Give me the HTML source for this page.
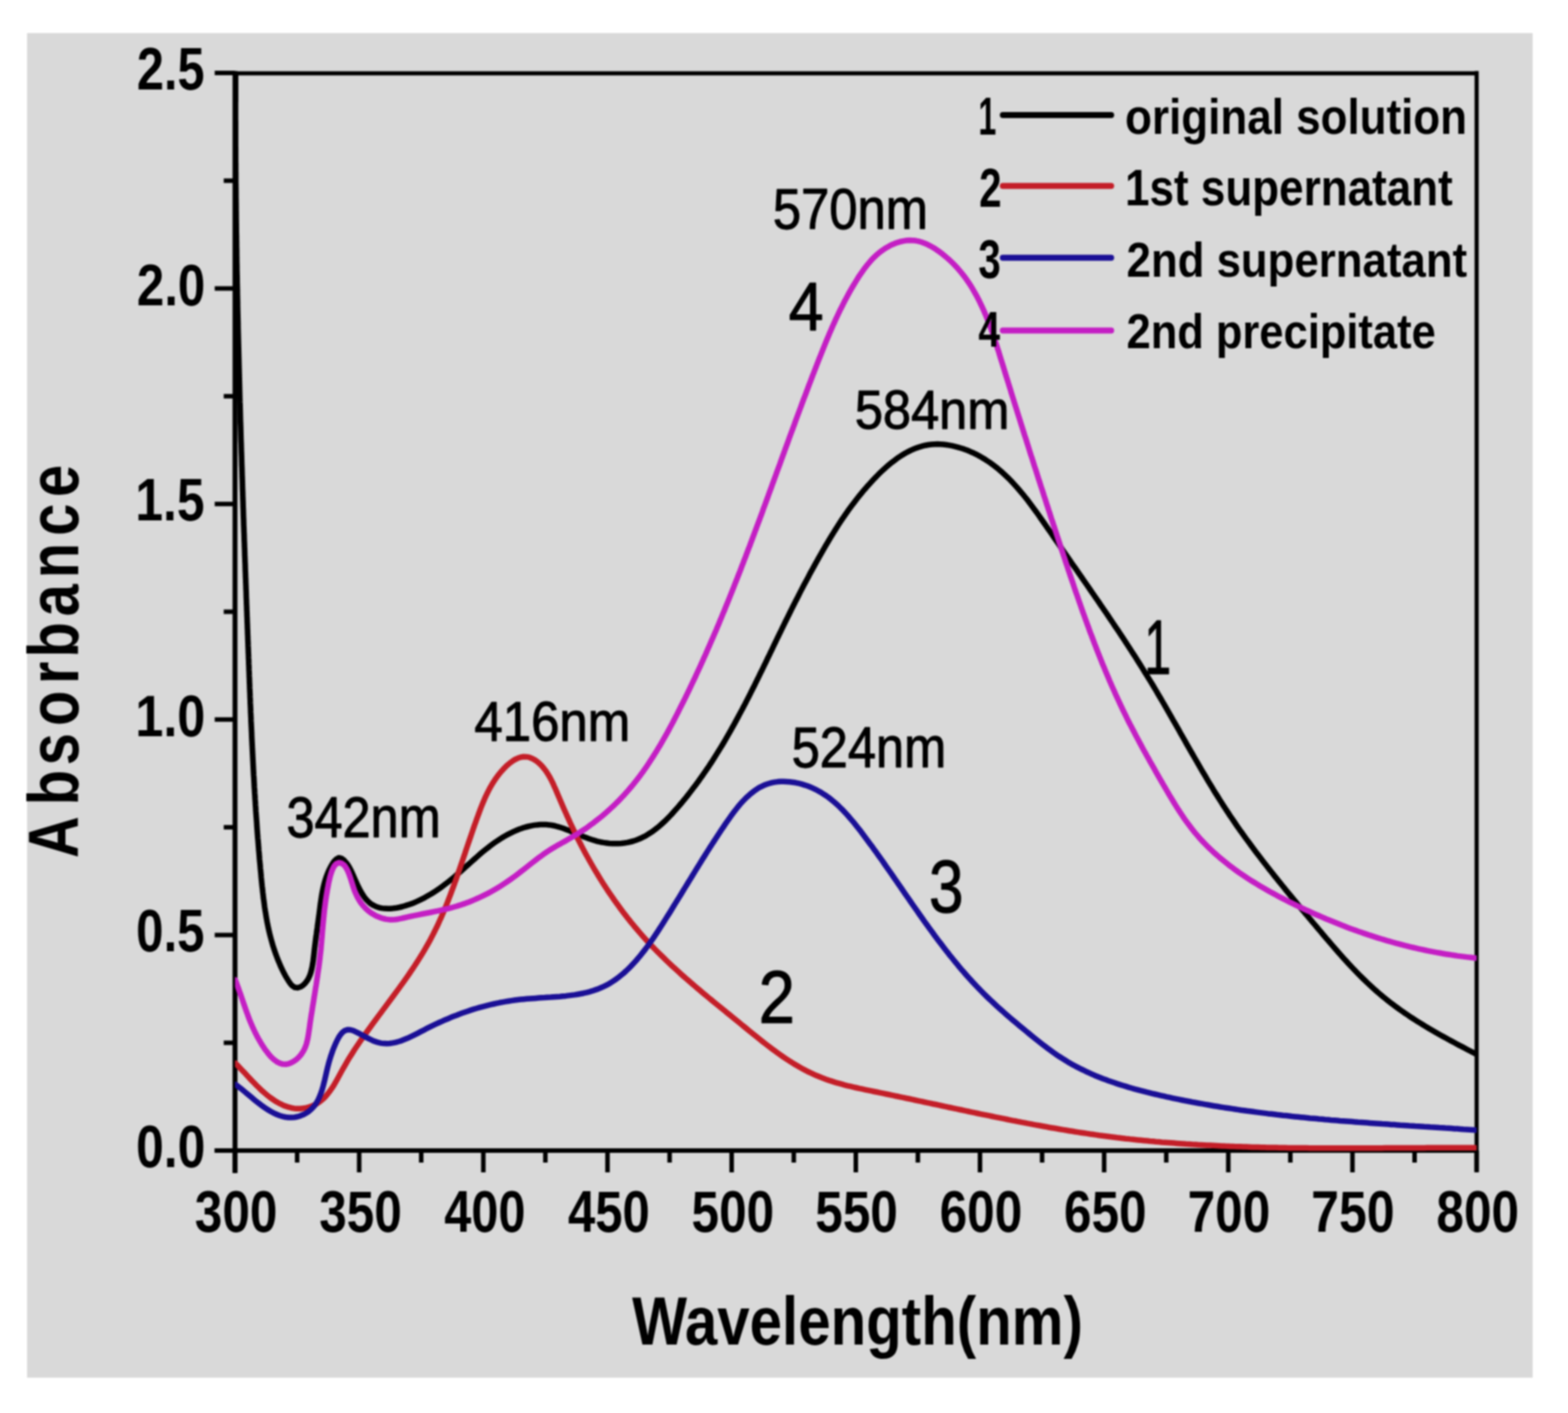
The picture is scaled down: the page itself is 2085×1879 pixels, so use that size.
<!DOCTYPE html><html><head><meta charset="utf-8"><title>Absorbance spectra</title><style>html,body{margin:0;padding:0;background:#fff;}svg{display:block;filter:blur(1px);}text{font-family:"Liberation Sans",Arial,sans-serif;fill:#000;}</style></head><body>
<svg xmlns="http://www.w3.org/2000/svg" width="2085" height="1879" viewBox="0 0 2085 1879">
<rect x="0" y="0" width="2085" height="1879" fill="#fff"/>
<rect x="36" y="44" width="2002" height="1788" fill="#d9d9d9"/>
<path d="M309.5 97.5 H1966.0" stroke="#000" stroke-width="5.5"/>
<path d="M1963.5 94.5 V1557.0" stroke="#000" stroke-width="5.5"/>
<path d="M312.5 94.5 V1560.0" stroke="#000" stroke-width="6.5"/>
<path d="M285.5 1530.0 H1965.5" stroke="#000" stroke-width="6.0"/>
<path d="M312.5 1530.0 V1559.0" stroke="#000" stroke-width="6.0"/>
<path d="M395.1 1530.0 V1546.0" stroke="#000" stroke-width="6.0"/>
<path d="M477.6 1530.0 V1559.0" stroke="#000" stroke-width="6.0"/>
<path d="M560.1 1530.0 V1546.0" stroke="#000" stroke-width="6.0"/>
<path d="M642.7 1530.0 V1559.0" stroke="#000" stroke-width="6.0"/>
<path d="M725.2 1530.0 V1546.0" stroke="#000" stroke-width="6.0"/>
<path d="M807.8 1530.0 V1559.0" stroke="#000" stroke-width="6.0"/>
<path d="M890.4 1530.0 V1546.0" stroke="#000" stroke-width="6.0"/>
<path d="M972.9 1530.0 V1559.0" stroke="#000" stroke-width="6.0"/>
<path d="M1055.5 1530.0 V1546.0" stroke="#000" stroke-width="6.0"/>
<path d="M1138.0 1530.0 V1559.0" stroke="#000" stroke-width="6.0"/>
<path d="M1220.5 1530.0 V1546.0" stroke="#000" stroke-width="6.0"/>
<path d="M1303.1 1530.0 V1559.0" stroke="#000" stroke-width="6.0"/>
<path d="M1385.7 1530.0 V1546.0" stroke="#000" stroke-width="6.0"/>
<path d="M1468.2 1530.0 V1559.0" stroke="#000" stroke-width="6.0"/>
<path d="M1550.8 1530.0 V1546.0" stroke="#000" stroke-width="6.0"/>
<path d="M1633.3 1530.0 V1559.0" stroke="#000" stroke-width="6.0"/>
<path d="M1715.8 1530.0 V1546.0" stroke="#000" stroke-width="6.0"/>
<path d="M1798.4 1530.0 V1559.0" stroke="#000" stroke-width="6.0"/>
<path d="M1881.0 1530.0 V1546.0" stroke="#000" stroke-width="6.0"/>
<path d="M1963.5 1530.0 V1559.0" stroke="#000" stroke-width="6.0"/>
<path d="M285.5 1530.0 H312.5" stroke="#000" stroke-width="6.0"/>
<path d="M297.5 1386.7 H312.5" stroke="#000" stroke-width="6.0"/>
<path d="M285.5 1243.4 H312.5" stroke="#000" stroke-width="6.0"/>
<path d="M297.5 1100.1 H312.5" stroke="#000" stroke-width="6.0"/>
<path d="M285.5 956.8 H312.5" stroke="#000" stroke-width="6.0"/>
<path d="M297.5 813.5 H312.5" stroke="#000" stroke-width="6.0"/>
<path d="M285.5 670.2 H312.5" stroke="#000" stroke-width="6.0"/>
<path d="M297.5 526.9 H312.5" stroke="#000" stroke-width="6.0"/>
<path d="M285.5 383.6 H312.5" stroke="#000" stroke-width="6.0"/>
<path d="M297.5 240.3 H312.5" stroke="#000" stroke-width="6.0"/>
<path d="M285.5 97.0 H312.5" stroke="#000" stroke-width="6.0"/>
<defs><clipPath id="pc"><rect x="312.5" y="97.0" width="1651.0" height="1437.0"/></clipPath></defs>
<g clip-path="url(#pc)" fill="none" stroke-linejoin="round" stroke-linecap="round">
<path d="M313.3 98.0 L313.2 102.0 L313.2 106.0 L313.2 110.0 L313.2 114.0 L313.2 118.0 L313.2 122.0 L313.2 126.0 L313.2 130.0 L313.2 134.0 L313.1 138.0 L313.1 142.0 L313.1 146.0 L313.1 150.0 L313.1 154.0 L313.1 158.0 L313.2 162.0 L313.2 166.1 L313.2 170.1 L313.2 174.1 L313.2 178.1 L313.2 182.1 L313.2 186.1 L313.2 190.1 L313.2 194.1 L313.3 198.1 L313.3 202.1 L313.3 206.1 L313.3 210.1 L313.3 214.1 L313.4 218.1 L313.4 222.1 L313.4 226.1 L313.5 230.1 L313.5 234.1 L313.5 238.1 L313.5 242.1 L313.6 246.1 L313.6 250.2 L313.7 254.2 L313.7 258.2 L313.7 262.2 L313.8 266.2 L313.8 270.2 L313.9 274.2 L313.9 278.2 L313.9 282.2 L314.0 286.2 L314.0 290.2 L314.1 294.2 L314.1 298.2 L314.2 302.2 L314.2 306.2 L314.3 310.2 L314.4 314.2 L314.4 318.2 L314.5 322.2 L314.5 326.2 L314.6 330.2 L314.7 334.2 L314.7 338.3 L314.8 342.3 L314.8 346.3 L314.9 350.3 L315.0 354.3 L315.0 358.3 L315.1 362.3 L315.2 366.3 L315.3 370.3 L315.3 374.3 L315.4 378.3 L315.5 382.3 L315.6 386.3 L315.6 390.3 L315.7 394.3 L315.8 398.3 L315.9 402.3 L315.9 406.3 L316.0 410.3 L316.1 414.3 L316.2 418.3 L316.3 422.3 L316.4 426.3 L316.5 430.3 L316.5 434.4 L316.6 438.4 L316.7 442.4 L316.8 446.4 L316.9 450.4 L317.0 454.4 L317.1 458.4 L317.2 462.4 L317.3 466.4 L317.4 470.4 L317.5 474.4 L317.6 478.4 L317.7 482.4 L317.8 486.4 L317.9 490.4 L318.0 494.4 L318.1 498.4 L318.2 502.4 L318.3 506.4 L318.4 510.4 L318.5 514.4 L318.6 518.4 L318.7 522.4 L318.8 526.4 L318.9 530.4 L319.0 534.4 L319.2 538.4 L319.3 542.4 L319.4 546.5 L319.5 550.5 L319.6 554.5 L319.7 558.5 L319.8 562.5 L320.0 566.5 L320.1 570.5 L320.2 574.5 L320.3 578.5 L320.4 582.5 L320.5 586.5 L320.7 590.5 L320.8 594.5 L320.9 598.5 L321.0 602.5 L321.2 606.5 L321.3 610.5 L321.4 614.5 L321.5 618.5 L321.7 622.5 L321.8 626.5 L321.9 630.5 L322.0 634.5 L322.2 638.5 L322.3 642.5 L322.4 646.5 L322.5 650.5 L322.7 654.5 L322.8 658.5 L322.9 662.5 L323.1 666.5 L323.2 670.5 L323.3 674.5 L323.5 678.5 L323.6 682.6 L323.7 686.6 L323.9 690.6 L324.0 694.6 L324.1 698.6 L324.3 702.6 L324.4 706.6 L324.6 710.6 L324.7 714.6 L324.8 718.6 L325.0 722.6 L325.1 726.6 L325.3 730.6 L325.4 734.6 L325.5 738.6 L325.7 742.6 L325.8 746.6 L326.0 750.6 L326.1 754.6 L326.2 758.6 L326.4 762.6 L326.5 766.6 L326.7 770.6 L326.8 774.6 L327.0 778.6 L327.1 782.6 L327.3 786.6 L327.4 790.6 L327.5 794.6 L327.7 798.6 L327.8 802.6 L328.0 806.6 L328.1 810.6 L328.3 814.6 L328.4 818.6 L328.6 822.6 L328.7 826.6 L328.9 830.6 L329.0 834.6 L329.2 838.6 L329.3 842.6 L329.5 846.6 L329.6 850.6 L329.8 854.7 L329.9 858.7 L330.1 862.7 L330.2 866.7 L330.4 870.7 L330.5 874.7 L330.7 878.7 L330.8 882.7 L331.0 886.7 L331.1 890.7 L331.3 894.7 L331.4 898.7 L331.6 902.7 L331.7 906.7 L331.9 910.7 L332.0 914.7 L332.2 918.7 L332.4 922.7 L332.5 926.7 L332.7 930.7 L332.8 934.7 L333.0 938.7 L333.2 942.7 L333.3 946.7 L333.5 950.7 L333.7 954.7 L333.8 958.7 L334.0 962.7 L334.2 966.7 L334.4 970.7 L334.6 974.7 L334.7 978.7 L334.9 982.7 L335.1 986.7 L335.3 990.7 L335.5 994.7 L335.7 998.7 L335.9 1002.7 L336.1 1006.7 L336.3 1010.7 L336.5 1014.7 L336.7 1018.7 L336.9 1022.7 L337.1 1026.7 L337.3 1030.7 L337.6 1034.7 L337.8 1038.7 L338.0 1042.7 L338.2 1046.7 L338.5 1050.7 L338.7 1054.7 L339.0 1058.7 L339.2 1062.7 L339.5 1066.7 L339.7 1070.7 L340.0 1074.7 L340.2 1078.7 L340.5 1082.7 L340.8 1086.7 L341.1 1090.7 L341.4 1094.7 L341.6 1098.6 L341.9 1102.6 L342.2 1106.6 L342.5 1110.6 L342.8 1114.6 L343.2 1118.6 L343.5 1122.6 L343.8 1126.6 L344.1 1130.6 L344.5 1134.6 L344.8 1138.6 L345.1 1142.6 L345.5 1146.6 L345.9 1150.5 L346.2 1154.5 L346.6 1158.5 L347.0 1162.5 L347.3 1166.5 L347.7 1170.5 L348.1 1174.5 L348.5 1178.4 L349.0 1182.4 L349.4 1186.4 L349.9 1190.4 L350.3 1194.4 L350.9 1198.3 L351.4 1202.3 L351.9 1206.3 L352.5 1210.2 L353.2 1214.2 L353.8 1218.1 L354.5 1222.1 L355.2 1226.0 L356.0 1229.9 L356.8 1233.9 L357.7 1237.8 L358.6 1241.7 L359.6 1245.6 L360.6 1249.4 L361.7 1253.3 L362.8 1257.1 L364.0 1260.9 L365.3 1264.8 L366.6 1268.5 L368.0 1272.3 L369.4 1276.0 L371.0 1279.7 L372.5 1283.4 L374.2 1287.1 L375.9 1290.7 L377.7 1294.2 L379.6 1297.8 L381.6 1301.2 L383.7 1304.6 L386.0 1307.9 L388.7 1310.9 L392.0 1313.1 L396.0 1313.5 L399.7 1312.3 L403.1 1310.1 L406.0 1307.3 L408.4 1304.1 L410.4 1300.6 L412.0 1297.0 L413.3 1293.2 L414.3 1289.3 L415.1 1285.4 L415.8 1281.4 L416.4 1277.5 L416.9 1273.5 L417.4 1269.5 L417.8 1265.5 L418.2 1261.6 L418.7 1257.6 L419.2 1253.6 L419.7 1249.6 L420.2 1245.7 L420.8 1241.7 L421.3 1237.7 L421.9 1233.8 L422.4 1229.8 L423.0 1225.8 L423.5 1221.9 L424.1 1217.9 L424.6 1213.9 L425.1 1210.0 L425.6 1206.0 L426.1 1202.0 L426.7 1198.0 L427.3 1194.1 L427.9 1190.1 L428.6 1186.2 L429.4 1182.3 L430.3 1178.4 L431.3 1174.5 L432.4 1170.6 L433.6 1166.8 L435.0 1163.1 L436.5 1159.3 L438.2 1155.7 L440.0 1152.2 L442.1 1148.7 L444.3 1145.4 L447.1 1142.5 L450.6 1140.7 L454.4 1141.7 L457.6 1144.1 L460.2 1147.1 L462.6 1150.3 L464.7 1153.7 L466.6 1157.3 L468.3 1160.9 L469.9 1164.5 L471.5 1168.2 L473.1 1171.9 L474.8 1175.5 L476.5 1179.2 L478.3 1182.7 L480.2 1186.3 L482.3 1189.7 L484.5 1193.0 L487.0 1196.1 L489.8 1199.0 L492.8 1201.6 L496.2 1203.7 L499.8 1205.5 L503.6 1206.8 L507.5 1207.6 L511.5 1208.1 L515.5 1208.3 L519.5 1208.2 L523.5 1207.8 L527.5 1207.2 L531.4 1206.5 L535.3 1205.5 L539.1 1204.4 L542.9 1203.2 L546.7 1201.9 L550.5 1200.4 L554.1 1198.9 L557.8 1197.2 L561.4 1195.4 L564.9 1193.6 L568.4 1191.6 L571.9 1189.6 L575.3 1187.5 L578.7 1185.3 L582.0 1183.1 L585.3 1180.8 L588.5 1178.5 L591.7 1176.1 L594.9 1173.6 L598.0 1171.1 L601.1 1168.6 L604.2 1166.0 L607.2 1163.4 L610.3 1160.8 L613.3 1158.1 L616.3 1155.5 L619.2 1152.8 L622.2 1150.1 L625.2 1147.5 L628.2 1144.8 L631.2 1142.1 L634.2 1139.5 L637.2 1136.8 L640.2 1134.2 L643.3 1131.7 L646.4 1129.2 L649.6 1126.7 L652.7 1124.2 L656.0 1121.8 L659.2 1119.5 L662.5 1117.3 L665.9 1115.1 L669.3 1113.0 L672.8 1111.0 L676.3 1109.1 L679.9 1107.3 L683.5 1105.6 L687.2 1104.0 L690.9 1102.5 L694.7 1101.2 L698.5 1100.0 L702.4 1099.0 L706.3 1098.1 L710.2 1097.4 L714.2 1096.9 L718.2 1096.5 L722.2 1096.4 L726.2 1096.6 L730.2 1096.9 L734.1 1097.5 L738.1 1098.3 L741.9 1099.3 L745.8 1100.5 L749.6 1101.8 L753.3 1103.2 L757.0 1104.6 L760.7 1106.2 L764.4 1107.7 L768.1 1109.3 L771.8 1110.8 L775.5 1112.4 L779.2 1113.8 L783.0 1115.2 L786.8 1116.5 L790.6 1117.7 L794.5 1118.8 L798.4 1119.7 L802.3 1120.4 L806.3 1121.0 L810.2 1121.5 L814.2 1121.7 L818.2 1121.8 L822.2 1121.7 L826.2 1121.5 L830.2 1121.0 L834.2 1120.4 L838.1 1119.5 L842.0 1118.5 L845.8 1117.2 L849.5 1115.8 L853.1 1114.2 L856.7 1112.4 L860.2 1110.4 L863.6 1108.3 L867.0 1106.1 L870.2 1103.8 L873.4 1101.3 L876.5 1098.8 L879.5 1096.1 L882.5 1093.4 L885.4 1090.7 L888.2 1087.9 L891.0 1085.0 L893.7 1082.1 L896.4 1079.1 L899.1 1076.1 L901.7 1073.1 L904.3 1070.0 L906.9 1067.0 L909.4 1063.9 L912.0 1060.8 L914.5 1057.6 L916.9 1054.5 L919.4 1051.3 L921.8 1048.1 L924.2 1044.9 L926.6 1041.7 L929.0 1038.5 L931.3 1035.2 L933.6 1032.0 L935.9 1028.7 L938.2 1025.4 L940.4 1022.1 L942.7 1018.8 L944.9 1015.4 L947.1 1012.1 L949.2 1008.7 L951.4 1005.3 L953.5 1001.9 L955.6 998.5 L957.7 995.1 L959.8 991.7 L961.9 988.2 L963.9 984.8 L965.9 981.3 L967.9 977.9 L969.9 974.4 L971.9 970.9 L973.8 967.4 L975.8 963.9 L977.7 960.4 L979.6 956.9 L981.5 953.4 L983.4 949.8 L985.3 946.3 L987.2 942.8 L989.0 939.2 L990.9 935.7 L992.7 932.1 L994.6 928.5 L996.4 925.0 L998.2 921.4 L1000.0 917.8 L1001.8 914.2 L1003.6 910.7 L1005.3 907.1 L1007.1 903.5 L1008.9 899.9 L1010.6 896.3 L1012.4 892.7 L1014.2 889.1 L1015.9 885.5 L1017.7 881.9 L1019.4 878.3 L1021.1 874.7 L1022.9 871.1 L1024.6 867.5 L1026.4 863.9 L1028.1 860.2 L1029.8 856.6 L1031.6 853.0 L1033.3 849.4 L1035.1 845.8 L1036.8 842.2 L1038.6 838.6 L1040.3 835.0 L1042.1 831.4 L1043.8 827.8 L1045.6 824.2 L1047.4 820.6 L1049.2 817.0 L1050.9 813.5 L1052.7 809.9 L1054.5 806.3 L1056.3 802.7 L1058.1 799.1 L1060.0 795.6 L1061.8 792.0 L1063.6 788.4 L1065.4 784.9 L1067.3 781.3 L1069.1 777.8 L1071.0 774.2 L1072.9 770.7 L1074.8 767.2 L1076.6 763.6 L1078.5 760.1 L1080.5 756.6 L1082.4 753.1 L1084.3 749.6 L1086.3 746.1 L1088.2 742.6 L1090.2 739.1 L1092.2 735.6 L1094.2 732.1 L1096.2 728.7 L1098.2 725.2 L1100.2 721.8 L1102.3 718.3 L1104.3 714.9 L1106.4 711.5 L1108.5 708.1 L1110.6 704.7 L1112.8 701.3 L1114.9 697.9 L1117.1 694.5 L1119.3 691.2 L1121.6 687.9 L1123.8 684.6 L1126.1 681.3 L1128.4 678.0 L1130.8 674.8 L1133.2 671.6 L1135.6 668.4 L1138.0 665.2 L1140.5 662.0 L1143.0 658.9 L1145.5 655.8 L1148.1 652.7 L1150.7 649.7 L1153.3 646.6 L1156.0 643.7 L1158.7 640.7 L1161.4 637.8 L1164.2 634.9 L1167.0 632.0 L1169.8 629.2 L1172.7 626.4 L1175.6 623.7 L1178.6 621.0 L1181.6 618.4 L1184.7 615.8 L1187.9 613.4 L1191.1 611.0 L1194.3 608.6 L1197.7 606.4 L1201.1 604.3 L1204.5 602.3 L1208.1 600.4 L1211.6 598.6 L1215.3 597.0 L1219.0 595.6 L1222.8 594.3 L1226.7 593.2 L1230.6 592.2 L1234.5 591.5 L1238.5 591.0 L1242.5 590.7 L1246.5 590.6 L1250.5 590.7 L1254.5 591.0 L1258.5 591.5 L1262.4 592.1 L1266.4 592.9 L1270.3 593.8 L1274.1 594.8 L1278.0 596.0 L1281.8 597.2 L1285.5 598.6 L1289.2 600.1 L1292.9 601.7 L1296.5 603.4 L1300.1 605.2 L1303.6 607.1 L1307.1 609.2 L1310.5 611.3 L1313.8 613.5 L1317.1 615.7 L1320.4 618.1 L1323.5 620.5 L1326.7 623.0 L1329.7 625.6 L1332.7 628.2 L1335.7 631.0 L1338.6 633.7 L1341.5 636.5 L1344.3 639.4 L1347.0 642.3 L1349.7 645.2 L1352.4 648.2 L1355.0 651.2 L1357.6 654.3 L1360.2 657.4 L1362.7 660.5 L1365.2 663.6 L1367.6 666.8 L1370.0 670.0 L1372.4 673.2 L1374.8 676.4 L1377.2 679.7 L1379.5 682.9 L1381.8 686.2 L1384.1 689.5 L1386.4 692.7 L1388.7 696.0 L1391.0 699.3 L1393.2 702.6 L1395.5 705.9 L1397.8 709.2 L1400.0 712.5 L1402.3 715.8 L1404.6 719.1 L1406.9 722.4 L1409.1 725.7 L1411.4 729.0 L1413.7 732.3 L1416.0 735.6 L1418.3 738.9 L1420.5 742.2 L1422.8 745.5 L1425.1 748.8 L1427.4 752.1 L1429.7 755.3 L1432.0 758.6 L1434.2 761.9 L1436.5 765.2 L1438.8 768.5 L1441.1 771.8 L1443.4 775.1 L1445.7 778.4 L1447.9 781.7 L1450.2 785.0 L1452.5 788.3 L1454.8 791.6 L1457.0 794.9 L1459.3 798.2 L1461.6 801.5 L1463.8 804.8 L1466.1 808.1 L1468.3 811.4 L1470.6 814.7 L1472.9 818.0 L1475.1 821.3 L1477.3 824.6 L1479.6 828.0 L1481.8 831.3 L1484.0 834.6 L1486.3 837.9 L1488.5 841.3 L1490.7 844.6 L1492.9 847.9 L1495.1 851.3 L1497.3 854.6 L1499.5 858.0 L1501.7 861.3 L1503.9 864.7 L1506.0 868.1 L1508.2 871.4 L1510.4 874.8 L1512.5 878.2 L1514.7 881.6 L1516.8 885.0 L1518.9 888.4 L1521.0 891.8 L1523.1 895.2 L1525.2 898.6 L1527.3 902.0 L1529.4 905.4 L1531.5 908.8 L1533.6 912.3 L1535.6 915.7 L1537.7 919.1 L1539.7 922.6 L1541.7 926.0 L1543.8 929.5 L1545.8 933.0 L1547.8 936.4 L1549.8 939.9 L1551.8 943.4 L1553.8 946.8 L1555.8 950.3 L1557.8 953.8 L1559.7 957.3 L1561.7 960.7 L1563.7 964.2 L1565.7 967.7 L1567.7 971.2 L1569.6 974.7 L1571.6 978.2 L1573.6 981.6 L1575.6 985.1 L1577.5 988.6 L1579.5 992.1 L1581.5 995.6 L1583.5 999.1 L1585.5 1002.5 L1587.5 1006.0 L1589.5 1009.5 L1591.5 1012.9 L1593.5 1016.4 L1595.5 1019.9 L1597.5 1023.3 L1599.5 1026.8 L1601.6 1030.2 L1603.6 1033.7 L1605.6 1037.1 L1607.7 1040.6 L1609.8 1044.0 L1611.9 1047.4 L1613.9 1050.8 L1616.0 1054.2 L1618.2 1057.6 L1620.3 1061.0 L1622.4 1064.4 L1624.6 1067.8 L1626.7 1071.2 L1628.9 1074.5 L1631.1 1077.9 L1633.3 1081.2 L1635.5 1084.6 L1637.8 1087.9 L1640.0 1091.2 L1642.3 1094.5 L1644.5 1097.8 L1646.8 1101.1 L1649.1 1104.4 L1651.5 1107.6 L1653.8 1110.9 L1656.1 1114.1 L1658.5 1117.4 L1660.9 1120.6 L1663.2 1123.8 L1665.6 1127.0 L1668.0 1130.2 L1670.4 1133.4 L1672.8 1136.6 L1675.3 1139.8 L1677.7 1143.0 L1680.2 1146.2 L1682.6 1149.3 L1685.1 1152.5 L1687.5 1155.6 L1690.0 1158.8 L1692.5 1161.9 L1695.0 1165.1 L1697.5 1168.2 L1700.0 1171.3 L1702.5 1174.4 L1705.0 1177.5 L1707.6 1180.7 L1710.1 1183.8 L1712.6 1186.9 L1715.2 1190.0 L1717.7 1193.0 L1720.3 1196.1 L1722.8 1199.2 L1725.4 1202.3 L1727.9 1205.4 L1730.5 1208.5 L1733.1 1211.5 L1735.6 1214.6 L1738.2 1217.7 L1740.8 1220.7 L1743.4 1223.8 L1745.9 1226.9 L1748.5 1229.9 L1751.1 1233.0 L1753.7 1236.1 L1756.3 1239.1 L1758.8 1242.2 L1761.4 1245.2 L1764.0 1248.3 L1766.6 1251.3 L1769.2 1254.4 L1771.8 1257.4 L1774.5 1260.5 L1777.1 1263.5 L1779.7 1266.5 L1782.4 1269.5 L1785.0 1272.5 L1787.7 1275.5 L1790.4 1278.4 L1793.1 1281.4 L1795.9 1284.3 L1798.6 1287.2 L1801.4 1290.1 L1804.1 1293.0 L1806.9 1295.9 L1809.8 1298.7 L1812.6 1301.5 L1815.5 1304.3 L1818.4 1307.1 L1821.3 1309.8 L1824.2 1312.5 L1827.2 1315.2 L1830.2 1317.9 L1833.2 1320.5 L1836.3 1323.1 L1839.3 1325.7 L1842.4 1328.2 L1845.6 1330.7 L1848.7 1333.2 L1851.9 1335.6 L1855.1 1338.0 L1858.4 1340.4 L1861.6 1342.7 L1864.9 1345.0 L1868.2 1347.3 L1871.5 1349.5 L1874.8 1351.8 L1878.2 1354.0 L1881.5 1356.1 L1884.9 1358.3 L1888.3 1360.4 L1891.7 1362.5 L1895.1 1364.6 L1898.6 1366.7 L1902.0 1368.7 L1905.5 1370.7 L1908.9 1372.7 L1912.4 1374.7 L1915.9 1376.7 L1919.4 1378.6 L1922.9 1380.6 L1926.4 1382.5 L1929.9 1384.4 L1933.5 1386.3 L1937.0 1388.2 L1940.5 1390.1 L1944.1 1391.9 L1947.6 1393.8 L1951.2 1395.7 L1954.7 1397.5 L1958.3 1399.3 L1961.8 1401.2" stroke="#000000" stroke-width="7.5"/>
<path d="M313.2 1414.0 L316.0 1416.9 L318.8 1419.8 L321.5 1422.7 L324.3 1425.6 L327.0 1428.6 L329.7 1431.5 L332.4 1434.4 L335.2 1437.4 L338.0 1440.2 L340.8 1443.1 L343.7 1445.9 L346.6 1448.7 L349.5 1451.4 L352.5 1454.0 L355.6 1456.6 L358.8 1459.1 L362.0 1461.4 L365.3 1463.7 L368.8 1465.8 L372.3 1467.7 L375.9 1469.4 L379.6 1470.9 L383.4 1472.2 L387.3 1473.2 L391.2 1473.9 L395.2 1474.2 L399.2 1474.2 L403.2 1473.8 L407.2 1473.1 L411.1 1472.1 L414.9 1470.8 L418.5 1469.2 L422.0 1467.2 L425.3 1465.0 L428.4 1462.4 L431.4 1459.7 L434.1 1456.7 L436.6 1453.6 L439.0 1450.4 L441.3 1447.1 L443.5 1443.8 L445.5 1440.3 L447.5 1436.9 L449.5 1433.3 L451.4 1429.8 L453.3 1426.3 L455.2 1422.8 L457.2 1419.3 L459.2 1415.8 L461.2 1412.3 L463.2 1408.9 L465.3 1405.5 L467.5 1402.1 L469.6 1398.7 L471.8 1395.3 L474.0 1392.0 L476.3 1388.7 L478.5 1385.3 L480.8 1382.0 L483.1 1378.8 L485.4 1375.5 L487.8 1372.2 L490.1 1369.0 L492.5 1365.7 L494.8 1362.5 L497.2 1359.3 L499.6 1356.0 L502.0 1352.8 L504.3 1349.6 L506.7 1346.4 L509.1 1343.1 L511.5 1339.9 L513.9 1336.7 L516.3 1333.5 L518.7 1330.3 L521.1 1327.1 L523.5 1323.8 L525.9 1320.6 L528.2 1317.4 L530.6 1314.1 L532.9 1310.9 L535.3 1307.6 L537.6 1304.4 L539.9 1301.1 L542.2 1297.8 L544.5 1294.5 L546.7 1291.2 L549.0 1287.8 L551.2 1284.5 L553.4 1281.2 L555.6 1277.8 L557.7 1274.4 L559.8 1271.0 L561.9 1267.6 L564.0 1264.1 L566.0 1260.7 L568.0 1257.2 L570.0 1253.7 L571.9 1250.2 L573.8 1246.6 L575.6 1243.1 L577.4 1239.5 L579.2 1235.9 L581.0 1232.3 L582.7 1228.7 L584.3 1225.0 L586.0 1221.4 L587.6 1217.7 L589.2 1214.0 L590.7 1210.3 L592.3 1206.6 L593.8 1202.9 L595.3 1199.2 L596.7 1195.4 L598.2 1191.7 L599.6 1187.9 L601.0 1184.2 L602.4 1180.4 L603.8 1176.7 L605.1 1172.9 L606.5 1169.1 L607.8 1165.3 L609.1 1161.5 L610.4 1157.7 L611.7 1154.0 L613.0 1150.2 L614.3 1146.4 L615.6 1142.6 L616.9 1138.8 L618.2 1135.0 L619.4 1131.2 L620.7 1127.4 L622.0 1123.6 L623.3 1119.8 L624.6 1116.0 L625.9 1112.2 L627.2 1108.4 L628.5 1104.6 L629.8 1100.8 L631.1 1097.0 L632.5 1093.2 L633.8 1089.5 L635.2 1085.7 L636.6 1081.9 L638.0 1078.2 L639.4 1074.4 L640.9 1070.7 L642.4 1067.0 L644.0 1063.3 L645.6 1059.6 L647.3 1056.0 L649.1 1052.4 L650.9 1048.9 L652.9 1045.3 L654.9 1041.9 L657.1 1038.5 L659.3 1035.2 L661.7 1031.9 L664.1 1028.8 L666.7 1025.7 L669.4 1022.7 L672.2 1019.8 L675.1 1017.1 L678.2 1014.5 L681.4 1012.2 L684.8 1010.0 L688.4 1008.3 L692.2 1007.0 L696.2 1006.3 L700.2 1006.4 L704.1 1007.2 L707.8 1008.7 L711.3 1010.6 L714.6 1013.0 L717.6 1015.6 L720.4 1018.4 L723.0 1021.5 L725.5 1024.7 L727.7 1028.0 L729.8 1031.4 L731.8 1034.9 L733.6 1038.4 L735.4 1042.0 L737.0 1045.7 L738.7 1049.4 L740.2 1053.0 L741.8 1056.7 L743.4 1060.4 L744.9 1064.1 L746.5 1067.8 L748.1 1071.5 L749.7 1075.2 L751.3 1078.8 L753.0 1082.5 L754.6 1086.2 L756.3 1089.8 L757.9 1093.5 L759.6 1097.1 L761.3 1100.7 L763.0 1104.3 L764.8 1108.0 L766.5 1111.6 L768.3 1115.2 L770.1 1118.7 L771.9 1122.3 L773.8 1125.9 L775.6 1129.4 L777.5 1133.0 L779.4 1136.5 L781.4 1140.0 L783.3 1143.5 L785.3 1147.0 L787.3 1150.5 L789.3 1154.0 L791.3 1157.4 L793.4 1160.8 L795.5 1164.3 L797.6 1167.7 L799.7 1171.1 L801.8 1174.5 L804.0 1177.8 L806.2 1181.2 L808.4 1184.6 L810.6 1187.9 L812.9 1191.2 L815.2 1194.5 L817.5 1197.8 L819.8 1201.0 L822.2 1204.3 L824.5 1207.5 L826.9 1210.7 L829.3 1213.9 L831.8 1217.1 L834.2 1220.3 L836.7 1223.4 L839.2 1226.6 L841.8 1229.7 L844.3 1232.8 L846.9 1235.8 L849.5 1238.9 L852.1 1241.9 L854.8 1244.9 L857.5 1247.9 L860.2 1250.9 L862.9 1253.8 L865.6 1256.7 L868.4 1259.6 L871.2 1262.5 L874.0 1265.4 L876.8 1268.2 L879.7 1271.0 L882.6 1273.8 L885.4 1276.6 L888.3 1279.4 L891.3 1282.2 L894.2 1284.9 L897.1 1287.6 L900.1 1290.3 L903.1 1293.0 L906.0 1295.7 L909.0 1298.4 L912.0 1301.0 L915.1 1303.6 L918.1 1306.3 L921.1 1308.9 L924.2 1311.5 L927.2 1314.1 L930.3 1316.7 L933.4 1319.3 L936.4 1321.8 L939.5 1324.4 L942.6 1327.0 L945.7 1329.5 L948.8 1332.1 L951.9 1334.6 L955.0 1337.1 L958.1 1339.7 L961.2 1342.2 L964.3 1344.7 L967.4 1347.3 L970.6 1349.8 L973.7 1352.3 L976.8 1354.9 L979.9 1357.4 L983.0 1359.9 L986.1 1362.5 L989.2 1365.0 L992.3 1367.5 L995.4 1370.1 L998.5 1372.6 L1001.6 1375.1 L1004.8 1377.7 L1007.9 1380.2 L1011.0 1382.7 L1014.2 1385.2 L1017.3 1387.6 L1020.5 1390.1 L1023.7 1392.5 L1026.9 1394.9 L1030.1 1397.3 L1033.4 1399.7 L1036.6 1402.0 L1039.9 1404.3 L1043.2 1406.6 L1046.6 1408.8 L1049.9 1411.0 L1053.3 1413.1 L1056.7 1415.2 L1060.2 1417.3 L1063.6 1419.3 L1067.1 1421.2 L1070.7 1423.1 L1074.2 1425.0 L1077.8 1426.7 L1081.5 1428.4 L1085.1 1430.1 L1088.8 1431.6 L1092.5 1433.1 L1096.3 1434.5 L1100.1 1435.9 L1103.9 1437.2 L1107.7 1438.4 L1111.5 1439.6 L1115.4 1440.7 L1119.2 1441.7 L1123.1 1442.8 L1127.0 1443.8 L1130.9 1444.7 L1134.8 1445.6 L1138.7 1446.5 L1142.6 1447.4 L1146.5 1448.2 L1150.5 1449.1 L1154.4 1449.9 L1158.3 1450.7 L1162.2 1451.5 L1166.2 1452.3 L1170.1 1453.1 L1174.0 1453.9 L1178.0 1454.7 L1181.9 1455.5 L1185.8 1456.3 L1189.7 1457.2 L1193.7 1458.0 L1197.6 1458.8 L1201.5 1459.6 L1205.4 1460.5 L1209.4 1461.3 L1213.3 1462.1 L1217.2 1463.0 L1221.1 1463.8 L1225.1 1464.6 L1229.0 1465.5 L1232.9 1466.3 L1236.8 1467.1 L1240.7 1468.0 L1244.7 1468.8 L1248.6 1469.6 L1252.5 1470.5 L1256.4 1471.3 L1260.3 1472.2 L1264.3 1473.0 L1268.2 1473.8 L1272.1 1474.7 L1276.0 1475.5 L1280.0 1476.3 L1283.9 1477.2 L1287.8 1478.0 L1291.7 1478.8 L1295.6 1479.6 L1299.6 1480.5 L1303.5 1481.3 L1307.4 1482.1 L1311.4 1482.9 L1315.3 1483.7 L1319.2 1484.5 L1323.1 1485.3 L1327.1 1486.1 L1331.0 1486.9 L1334.9 1487.7 L1338.9 1488.5 L1342.8 1489.3 L1346.7 1490.1 L1350.7 1490.8 L1354.6 1491.6 L1358.5 1492.4 L1362.5 1493.1 L1366.4 1493.9 L1370.4 1494.6 L1374.3 1495.4 L1378.2 1496.1 L1382.2 1496.8 L1386.1 1497.5 L1390.1 1498.2 L1394.0 1499.0 L1398.0 1499.7 L1401.9 1500.3 L1405.9 1501.0 L1409.8 1501.7 L1413.8 1502.4 L1417.7 1503.0 L1421.7 1503.7 L1425.6 1504.3 L1429.6 1505.0 L1433.6 1505.6 L1437.5 1506.2 L1441.5 1506.8 L1445.5 1507.4 L1449.4 1508.0 L1453.4 1508.5 L1457.4 1509.1 L1461.3 1509.7 L1465.3 1510.2 L1469.3 1510.7 L1473.3 1511.3 L1477.2 1511.8 L1481.2 1512.3 L1485.2 1512.8 L1489.2 1513.2 L1493.2 1513.7 L1497.1 1514.2 L1501.1 1514.6 L1505.1 1515.1 L1509.1 1515.5 L1513.1 1515.9 L1517.1 1516.3 L1521.1 1516.7 L1525.1 1517.1 L1529.1 1517.5 L1533.0 1517.8 L1537.0 1518.2 L1541.0 1518.5 L1545.0 1518.9 L1549.0 1519.2 L1553.0 1519.5 L1557.0 1519.8 L1561.0 1520.1 L1565.0 1520.4 L1569.0 1520.7 L1573.0 1521.0 L1577.0 1521.3 L1581.0 1521.5 L1585.0 1521.8 L1589.0 1522.0 L1593.0 1522.3 L1597.0 1522.5 L1601.0 1522.7 L1605.0 1522.9 L1609.0 1523.1 L1613.1 1523.3 L1617.1 1523.5 L1621.1 1523.7 L1625.1 1523.9 L1629.1 1524.1 L1633.1 1524.2 L1637.1 1524.4 L1641.1 1524.6 L1645.1 1524.7 L1649.1 1524.8 L1653.1 1525.0 L1657.1 1525.1 L1661.1 1525.2 L1665.1 1525.4 L1669.1 1525.5 L1673.2 1525.6 L1677.2 1525.7 L1681.2 1525.8 L1685.2 1525.9 L1689.2 1525.9 L1693.2 1526.0 L1697.2 1526.1 L1701.2 1526.2 L1705.2 1526.2 L1709.2 1526.3 L1713.2 1526.4 L1717.3 1526.4 L1721.3 1526.5 L1725.3 1526.5 L1729.3 1526.6 L1733.3 1526.6 L1737.3 1526.6 L1741.3 1526.7 L1745.3 1526.7 L1749.3 1526.7 L1753.3 1526.7 L1757.4 1526.8 L1761.4 1526.8 L1765.4 1526.8 L1769.4 1526.8 L1773.4 1526.8 L1777.4 1526.8 L1781.4 1526.8 L1785.4 1526.8 L1789.4 1526.8 L1793.4 1526.8 L1797.5 1526.8 L1801.5 1526.8 L1805.5 1526.8 L1809.5 1526.8 L1813.5 1526.8 L1817.5 1526.7 L1821.5 1526.7 L1825.5 1526.7 L1829.5 1526.7 L1833.5 1526.7 L1837.6 1526.7 L1841.6 1526.6 L1845.6 1526.6 L1849.6 1526.6 L1853.6 1526.6 L1857.6 1526.5 L1861.6 1526.5 L1865.6 1526.5 L1869.6 1526.5 L1873.6 1526.5 L1877.7 1526.4 L1881.7 1526.4 L1885.7 1526.4 L1889.7 1526.4 L1893.7 1526.4 L1897.7 1526.3 L1901.7 1526.3 L1905.7 1526.3 L1909.7 1526.3 L1913.7 1526.3 L1917.8 1526.3 L1921.8 1526.3 L1925.8 1526.2 L1929.8 1526.2 L1933.8 1526.2 L1937.8 1526.2 L1941.8 1526.2 L1945.8 1526.2 L1949.8 1526.2 L1953.8 1526.2 L1957.9 1526.3 L1961.9 1526.3" stroke="#c41e28" stroke-width="7.5"/>
<path d="M313.1 1442.1 L316.3 1444.5 L319.5 1446.9 L322.6 1449.4 L325.7 1452.0 L328.8 1454.6 L331.9 1457.2 L334.9 1459.7 L338.0 1462.3 L341.1 1464.8 L344.3 1467.3 L347.5 1469.7 L350.8 1472.1 L354.1 1474.3 L357.5 1476.5 L360.9 1478.5 L364.5 1480.3 L368.1 1482.0 L371.9 1483.5 L375.7 1484.6 L379.6 1485.5 L383.6 1486.0 L387.6 1486.1 L391.6 1485.7 L395.6 1485.0 L399.4 1483.8 L403.1 1482.3 L406.7 1480.5 L410.0 1478.3 L413.2 1475.7 L416.0 1472.9 L418.6 1469.8 L420.8 1466.5 L422.8 1463.0 L424.5 1459.4 L426.0 1455.7 L427.4 1451.9 L428.6 1448.1 L429.7 1444.2 L430.7 1440.3 L431.7 1436.4 L432.6 1432.5 L433.5 1428.6 L434.4 1424.7 L435.3 1420.8 L436.3 1416.9 L437.3 1413.0 L438.4 1409.2 L439.6 1405.3 L440.9 1401.5 L442.2 1397.7 L443.6 1394.0 L445.2 1390.3 L446.8 1386.6 L448.5 1383.0 L450.4 1379.4 L452.6 1376.1 L455.2 1373.0 L458.4 1370.6 L462.1 1369.3 L466.1 1369.5 L470.0 1370.6 L473.6 1372.3 L477.2 1374.1 L480.7 1376.0 L484.2 1377.9 L487.8 1379.9 L491.3 1381.7 L495.0 1383.4 L498.7 1384.9 L502.5 1386.2 L506.4 1387.1 L510.4 1387.6 L514.4 1387.7 L518.4 1387.5 L522.4 1386.9 L526.3 1386.1 L530.2 1385.0 L534.0 1383.8 L537.7 1382.3 L541.4 1380.8 L545.1 1379.1 L548.7 1377.4 L552.3 1375.6 L555.8 1373.8 L559.4 1371.9 L563.0 1370.1 L566.5 1368.2 L570.1 1366.4 L573.7 1364.6 L577.3 1362.9 L581.0 1361.2 L584.6 1359.5 L588.3 1357.9 L591.9 1356.2 L595.6 1354.7 L599.3 1353.1 L603.1 1351.6 L606.8 1350.2 L610.5 1348.7 L614.3 1347.3 L618.1 1346.0 L621.9 1344.7 L625.7 1343.4 L629.5 1342.2 L633.4 1341.0 L637.2 1339.9 L641.1 1338.8 L645.0 1337.8 L648.8 1336.8 L652.7 1335.9 L656.7 1335.0 L660.6 1334.1 L664.5 1333.3 L668.5 1332.6 L672.4 1331.9 L676.4 1331.2 L680.3 1330.6 L684.3 1330.0 L688.3 1329.5 L692.3 1329.1 L696.3 1328.7 L700.3 1328.3 L704.3 1328.0 L708.3 1327.7 L712.3 1327.4 L716.3 1327.1 L720.3 1326.8 L724.3 1326.6 L728.3 1326.3 L732.3 1326.1 L736.3 1325.8 L740.3 1325.5 L744.3 1325.2 L748.3 1324.8 L752.3 1324.4 L756.3 1323.9 L760.3 1323.4 L764.2 1322.9 L768.2 1322.2 L772.1 1321.5 L776.1 1320.7 L780.0 1319.8 L783.9 1318.8 L787.7 1317.7 L791.5 1316.4 L795.3 1315.1 L799.0 1313.5 L802.7 1311.9 L806.3 1310.1 L809.8 1308.2 L813.2 1306.1 L816.6 1303.9 L819.9 1301.6 L823.1 1299.2 L826.2 1296.7 L829.3 1294.1 L832.3 1291.4 L835.2 1288.6 L838.0 1285.8 L840.8 1282.9 L843.5 1280.0 L846.2 1277.0 L848.8 1273.9 L851.4 1270.8 L853.9 1267.7 L856.3 1264.6 L858.8 1261.4 L861.2 1258.1 L863.5 1254.9 L865.8 1251.6 L868.1 1248.3 L870.4 1245.0 L872.6 1241.6 L874.8 1238.3 L877.0 1234.9 L879.2 1231.5 L881.3 1228.2 L883.5 1224.8 L885.6 1221.4 L887.7 1218.0 L889.9 1214.6 L892.0 1211.2 L894.1 1207.8 L896.2 1204.3 L898.3 1200.9 L900.4 1197.5 L902.5 1194.1 L904.6 1190.7 L906.7 1187.2 L908.8 1183.8 L910.9 1180.4 L913.0 1177.0 L915.1 1173.5 L917.2 1170.1 L919.3 1166.7 L921.4 1163.3 L923.5 1159.9 L925.6 1156.4 L927.7 1153.0 L929.8 1149.6 L931.9 1146.2 L934.0 1142.8 L936.2 1139.4 L938.3 1136.0 L940.4 1132.6 L942.6 1129.2 L944.7 1125.8 L946.9 1122.5 L949.1 1119.1 L951.3 1115.7 L953.5 1112.4 L955.7 1109.0 L957.9 1105.7 L960.1 1102.3 L962.4 1099.0 L964.6 1095.7 L966.9 1092.4 L969.2 1089.1 L971.5 1085.8 L973.9 1082.6 L976.3 1079.3 L978.7 1076.2 L981.2 1073.0 L983.8 1069.9 L986.4 1066.9 L989.2 1064.0 L992.0 1061.1 L994.9 1058.4 L997.9 1055.7 L1001.1 1053.2 L1004.3 1050.8 L1007.6 1048.6 L1011.1 1046.6 L1014.7 1044.8 L1018.4 1043.3 L1022.2 1042.0 L1026.1 1040.9 L1030.0 1040.1 L1034.0 1039.6 L1038.0 1039.3 L1042.0 1039.2 L1046.0 1039.4 L1050.0 1039.7 L1054.0 1040.2 L1057.9 1040.8 L1061.9 1041.7 L1065.8 1042.6 L1069.6 1043.8 L1073.4 1045.0 L1077.2 1046.5 L1080.9 1048.1 L1084.5 1049.8 L1088.0 1051.7 L1091.5 1053.6 L1094.9 1055.8 L1098.3 1058.0 L1101.5 1060.3 L1104.7 1062.8 L1107.8 1065.3 L1110.9 1067.9 L1113.8 1070.6 L1116.7 1073.4 L1119.6 1076.2 L1122.4 1079.1 L1125.1 1082.0 L1127.8 1085.0 L1130.4 1088.1 L1133.0 1091.1 L1135.6 1094.2 L1138.1 1097.3 L1140.6 1100.5 L1143.1 1103.6 L1145.5 1106.8 L1147.9 1110.0 L1150.3 1113.2 L1152.7 1116.4 L1155.1 1119.7 L1157.5 1122.9 L1159.9 1126.1 L1162.2 1129.4 L1164.6 1132.6 L1166.9 1135.9 L1169.3 1139.2 L1171.6 1142.4 L1173.9 1145.7 L1176.2 1149.0 L1178.5 1152.3 L1180.8 1155.6 L1183.1 1158.9 L1185.4 1162.2 L1187.7 1165.5 L1190.0 1168.8 L1192.3 1172.1 L1194.5 1175.4 L1196.8 1178.7 L1199.1 1182.0 L1201.4 1185.3 L1203.6 1188.6 L1205.9 1191.9 L1208.2 1195.2 L1210.5 1198.5 L1212.8 1201.8 L1215.1 1205.1 L1217.4 1208.4 L1219.7 1211.7 L1222.0 1215.0 L1224.3 1218.2 L1226.6 1221.5 L1228.9 1224.8 L1231.2 1228.0 L1233.6 1231.3 L1235.9 1234.6 L1238.3 1237.8 L1240.7 1241.0 L1243.0 1244.3 L1245.4 1247.5 L1247.8 1250.7 L1250.3 1253.9 L1252.7 1257.1 L1255.1 1260.3 L1257.6 1263.5 L1260.1 1266.6 L1262.5 1269.8 L1265.1 1272.9 L1267.6 1276.0 L1270.1 1279.1 L1272.7 1282.2 L1275.2 1285.3 L1277.8 1288.4 L1280.5 1291.4 L1283.1 1294.5 L1285.7 1297.5 L1288.4 1300.5 L1291.1 1303.4 L1293.8 1306.4 L1296.6 1309.3 L1299.3 1312.2 L1302.1 1315.1 L1304.9 1318.0 L1307.7 1320.9 L1310.6 1323.7 L1313.4 1326.5 L1316.3 1329.3 L1319.3 1332.0 L1322.2 1334.8 L1325.1 1337.5 L1328.1 1340.2 L1331.1 1342.9 L1334.1 1345.5 L1337.1 1348.2 L1340.1 1350.8 L1343.2 1353.5 L1346.2 1356.1 L1349.3 1358.7 L1352.3 1361.2 L1355.4 1363.8 L1358.5 1366.4 L1361.6 1368.9 L1364.7 1371.5 L1367.8 1374.0 L1370.9 1376.6 L1374.0 1379.1 L1377.1 1381.6 L1380.3 1384.1 L1383.4 1386.6 L1386.6 1389.1 L1389.8 1391.5 L1393.0 1393.9 L1396.2 1396.3 L1399.5 1398.7 L1402.7 1401.0 L1406.0 1403.3 L1409.4 1405.5 L1412.8 1407.7 L1416.2 1409.8 L1419.6 1411.9 L1423.1 1413.9 L1426.6 1415.9 L1430.1 1417.8 L1433.6 1419.6 L1437.2 1421.5 L1440.8 1423.2 L1444.4 1425.0 L1448.1 1426.6 L1451.8 1428.3 L1455.4 1429.9 L1459.1 1431.4 L1462.9 1432.9 L1466.6 1434.4 L1470.4 1435.8 L1474.1 1437.2 L1477.9 1438.5 L1481.7 1439.8 L1485.5 1441.1 L1489.3 1442.3 L1493.1 1443.5 L1497.0 1444.7 L1500.8 1445.9 L1504.7 1447.0 L1508.5 1448.1 L1512.4 1449.1 L1516.3 1450.2 L1520.2 1451.2 L1524.1 1452.2 L1528.0 1453.1 L1531.9 1454.1 L1535.8 1455.0 L1539.7 1455.9 L1543.6 1456.8 L1547.5 1457.7 L1551.4 1458.6 L1555.3 1459.4 L1559.3 1460.3 L1563.2 1461.1 L1567.1 1461.9 L1571.1 1462.7 L1575.0 1463.5 L1578.9 1464.2 L1582.9 1465.0 L1586.8 1465.8 L1590.8 1466.5 L1594.7 1467.2 L1598.7 1467.9 L1602.6 1468.6 L1606.6 1469.3 L1610.5 1470.0 L1614.5 1470.7 L1618.4 1471.3 L1622.4 1472.0 L1626.4 1472.6 L1630.3 1473.2 L1634.3 1473.8 L1638.3 1474.4 L1642.2 1475.0 L1646.2 1475.6 L1650.2 1476.2 L1654.2 1476.7 L1658.1 1477.3 L1662.1 1477.8 L1666.1 1478.3 L1670.1 1478.9 L1674.0 1479.4 L1678.0 1479.9 L1682.0 1480.4 L1686.0 1480.9 L1690.0 1481.3 L1694.0 1481.8 L1697.9 1482.3 L1701.9 1482.7 L1705.9 1483.2 L1709.9 1483.6 L1713.9 1484.0 L1717.9 1484.5 L1721.9 1484.9 L1725.9 1485.3 L1729.9 1485.7 L1733.9 1486.1 L1737.9 1486.5 L1741.9 1486.9 L1745.8 1487.2 L1749.8 1487.6 L1753.8 1488.0 L1757.8 1488.3 L1761.8 1488.7 L1765.8 1489.0 L1769.8 1489.4 L1773.8 1489.7 L1777.8 1490.0 L1781.8 1490.4 L1785.8 1490.7 L1789.8 1491.0 L1793.8 1491.3 L1797.8 1491.6 L1801.8 1491.9 L1805.8 1492.3 L1809.8 1492.5 L1813.8 1492.8 L1817.8 1493.1 L1821.8 1493.4 L1825.8 1493.7 L1829.9 1494.0 L1833.9 1494.3 L1837.9 1494.6 L1841.9 1494.8 L1845.9 1495.1 L1849.9 1495.4 L1853.9 1495.6 L1857.9 1495.9 L1861.9 1496.2 L1865.9 1496.4 L1869.9 1496.7 L1873.9 1497.0 L1877.9 1497.2 L1881.9 1497.5 L1885.9 1497.7 L1889.9 1498.0 L1893.9 1498.3 L1897.9 1498.5 L1901.9 1498.8 L1905.9 1499.0 L1909.9 1499.3 L1913.9 1499.6 L1918.0 1499.8 L1922.0 1500.1 L1926.0 1500.3 L1930.0 1500.6 L1934.0 1500.9 L1938.0 1501.1 L1942.0 1501.4 L1946.0 1501.7 L1950.0 1501.9 L1954.0 1502.2 L1958.0 1502.5 L1962.0 1502.8" stroke="#1a0f96" stroke-width="7.5"/>
<path d="M312.8 1303.0 L314.2 1306.7 L315.6 1310.5 L317.0 1314.2 L318.3 1318.0 L319.7 1321.8 L321.0 1325.6 L322.3 1329.4 L323.6 1333.2 L324.9 1337.0 L326.2 1340.8 L327.5 1344.5 L328.9 1348.3 L330.3 1352.1 L331.7 1355.8 L333.2 1359.5 L334.8 1363.2 L336.4 1366.9 L338.1 1370.5 L339.8 1374.1 L341.7 1377.7 L343.6 1381.2 L345.6 1384.7 L347.6 1388.1 L349.8 1391.5 L352.0 1394.9 L354.4 1398.1 L356.8 1401.3 L359.4 1404.3 L362.2 1407.2 L365.3 1409.8 L368.5 1412.1 L372.1 1413.9 L376.0 1415.1 L379.9 1415.3 L383.9 1414.6 L387.6 1413.1 L391.1 1411.1 L394.3 1408.7 L397.2 1406.0 L399.9 1403.0 L402.2 1399.7 L404.2 1396.3 L405.9 1392.6 L407.3 1388.8 L408.3 1385.0 L409.2 1381.1 L409.9 1377.1 L410.5 1373.2 L411.1 1369.2 L411.7 1365.2 L412.2 1361.3 L412.8 1357.3 L413.4 1353.3 L414.0 1349.4 L414.7 1345.4 L415.3 1341.4 L415.9 1337.5 L416.6 1333.5 L417.2 1329.6 L417.8 1325.6 L418.5 1321.6 L419.1 1317.7 L419.7 1313.7 L420.4 1309.8 L421.0 1305.8 L421.6 1301.8 L422.2 1297.9 L422.7 1293.9 L423.3 1289.9 L423.9 1286.0 L424.4 1282.0 L424.9 1278.0 L425.4 1274.0 L425.8 1270.0 L426.3 1266.0 L426.7 1262.1 L427.0 1258.1 L427.4 1254.1 L427.7 1250.1 L428.1 1246.1 L428.4 1242.1 L428.7 1238.1 L429.1 1234.1 L429.4 1230.1 L429.8 1226.1 L430.2 1222.1 L430.6 1218.1 L431.0 1214.1 L431.4 1210.1 L431.9 1206.2 L432.4 1202.2 L432.9 1198.2 L433.5 1194.2 L434.1 1190.3 L434.8 1186.3 L435.4 1182.4 L436.2 1178.4 L436.9 1174.5 L437.8 1170.6 L438.7 1166.7 L439.8 1162.8 L441.0 1159.0 L442.5 1155.3 L444.4 1151.7 L447.0 1148.7 L450.6 1147.2 L454.5 1148.2 L457.7 1150.6 L460.1 1153.8 L462.1 1157.3 L463.6 1161.0 L465.0 1164.7 L466.3 1168.5 L467.5 1172.4 L468.7 1176.2 L469.9 1180.0 L471.2 1183.8 L472.7 1187.5 L474.4 1191.2 L476.2 1194.7 L478.2 1198.2 L480.5 1201.5 L483.0 1204.6 L485.7 1207.6 L488.6 1210.3 L491.8 1212.8 L495.1 1215.1 L498.5 1217.1 L502.1 1218.8 L505.9 1220.3 L509.7 1221.5 L513.6 1222.4 L517.6 1222.9 L521.6 1223.0 L525.6 1222.8 L529.6 1222.2 L533.5 1221.4 L537.4 1220.5 L541.3 1219.6 L545.2 1218.7 L549.2 1217.9 L553.1 1217.1 L557.0 1216.3 L560.9 1215.5 L564.9 1214.7 L568.8 1214.0 L572.8 1213.2 L576.7 1212.4 L580.6 1211.6 L584.5 1210.8 L588.5 1209.9 L592.4 1209.0 L596.3 1208.1 L600.1 1207.1 L604.0 1206.0 L607.9 1204.9 L611.7 1203.7 L615.5 1202.4 L619.3 1201.1 L623.0 1199.7 L626.7 1198.2 L630.5 1196.6 L634.1 1195.0 L637.8 1193.4 L641.4 1191.7 L645.0 1189.9 L648.6 1188.1 L652.1 1186.2 L655.6 1184.2 L659.1 1182.2 L662.5 1180.2 L665.9 1178.1 L669.3 1175.9 L672.7 1173.7 L676.0 1171.4 L679.3 1169.1 L682.5 1166.8 L685.7 1164.4 L688.9 1162.0 L692.1 1159.5 L695.3 1157.1 L698.4 1154.6 L701.6 1152.1 L704.7 1149.6 L707.9 1147.1 L711.0 1144.7 L714.2 1142.2 L717.4 1139.8 L720.7 1137.5 L723.9 1135.1 L727.2 1132.9 L730.6 1130.7 L734.0 1128.5 L737.4 1126.5 L740.9 1124.4 L744.4 1122.5 L747.9 1120.5 L751.4 1118.6 L754.9 1116.6 L758.4 1114.6 L761.8 1112.6 L765.2 1110.5 L768.7 1108.4 L772.0 1106.2 L775.4 1104.0 L778.7 1101.8 L782.0 1099.5 L785.2 1097.1 L788.5 1094.7 L791.6 1092.3 L794.8 1089.8 L797.9 1087.3 L801.0 1084.8 L804.1 1082.2 L807.1 1079.5 L810.1 1076.9 L813.0 1074.1 L815.9 1071.4 L818.8 1068.6 L821.7 1065.8 L824.5 1062.9 L827.2 1060.0 L830.0 1057.1 L832.7 1054.1 L835.3 1051.1 L837.9 1048.0 L840.5 1045.0 L843.0 1041.9 L845.5 1038.7 L848.0 1035.6 L850.4 1032.4 L852.8 1029.1 L855.2 1025.9 L857.5 1022.6 L859.8 1019.3 L862.0 1016.0 L864.2 1012.7 L866.4 1009.3 L868.6 1005.9 L870.7 1002.6 L872.9 999.1 L874.9 995.7 L877.0 992.3 L879.0 988.8 L881.0 985.4 L883.0 981.9 L885.0 978.4 L887.0 974.9 L888.9 971.4 L890.8 967.8 L892.7 964.3 L894.6 960.8 L896.4 957.2 L898.3 953.6 L900.1 950.1 L901.9 946.5 L903.7 942.9 L905.5 939.3 L907.3 935.8 L909.1 932.2 L910.9 928.6 L912.7 925.0 L914.4 921.4 L916.2 917.8 L917.9 914.1 L919.6 910.5 L921.3 906.9 L923.1 903.3 L924.8 899.6 L926.4 896.0 L928.1 892.4 L929.8 888.7 L931.5 885.1 L933.1 881.4 L934.8 877.8 L936.4 874.1 L938.1 870.5 L939.7 866.8 L941.3 863.1 L942.9 859.4 L944.5 855.8 L946.1 852.1 L947.7 848.4 L949.3 844.7 L950.9 841.0 L952.5 837.4 L954.0 833.7 L955.6 830.0 L957.1 826.3 L958.7 822.6 L960.2 818.9 L961.7 815.2 L963.3 811.5 L964.8 807.7 L966.3 804.0 L967.8 800.3 L969.3 796.6 L970.8 792.9 L972.3 789.2 L973.8 785.4 L975.3 781.7 L976.7 778.0 L978.2 774.2 L979.7 770.5 L981.1 766.8 L982.6 763.0 L984.1 759.3 L985.5 755.6 L986.9 751.8 L988.4 748.1 L989.8 744.3 L991.3 740.6 L992.7 736.8 L994.1 733.1 L995.5 729.3 L997.0 725.6 L998.4 721.8 L999.8 718.1 L1001.2 714.3 L1002.6 710.6 L1004.0 706.8 L1005.4 703.1 L1006.8 699.3 L1008.2 695.5 L1009.6 691.8 L1011.0 688.0 L1012.4 684.3 L1013.8 680.5 L1015.1 676.7 L1016.5 673.0 L1017.9 669.2 L1019.3 665.4 L1020.7 661.7 L1022.0 657.9 L1023.4 654.1 L1024.8 650.4 L1026.2 646.6 L1027.5 642.8 L1028.9 639.1 L1030.3 635.3 L1031.7 631.5 L1033.0 627.8 L1034.4 624.0 L1035.8 620.2 L1037.2 616.5 L1038.5 612.7 L1039.9 608.9 L1041.3 605.2 L1042.7 601.4 L1044.0 597.6 L1045.4 593.9 L1046.8 590.1 L1048.2 586.3 L1049.5 582.6 L1050.9 578.8 L1052.3 575.0 L1053.7 571.3 L1055.1 567.5 L1056.5 563.8 L1057.8 560.0 L1059.2 556.2 L1060.6 552.5 L1062.0 548.7 L1063.4 545.0 L1064.8 541.2 L1066.2 537.4 L1067.6 533.7 L1069.0 529.9 L1070.5 526.2 L1071.9 522.4 L1073.3 518.7 L1074.7 514.9 L1076.1 511.2 L1077.6 507.4 L1079.0 503.7 L1080.4 499.9 L1081.9 496.2 L1083.3 492.5 L1084.8 488.7 L1086.2 485.0 L1087.7 481.2 L1089.1 477.5 L1090.6 473.8 L1092.1 470.1 L1093.6 466.3 L1095.1 462.6 L1096.6 458.9 L1098.1 455.2 L1099.6 451.5 L1101.2 447.8 L1102.7 444.1 L1104.3 440.4 L1105.9 436.7 L1107.5 433.0 L1109.2 429.4 L1110.8 425.7 L1112.5 422.1 L1114.2 418.5 L1115.9 414.9 L1117.7 411.2 L1119.5 407.7 L1121.3 404.1 L1123.1 400.5 L1125.0 397.0 L1126.9 393.4 L1128.8 389.9 L1130.8 386.4 L1132.8 382.9 L1134.8 379.5 L1136.9 376.1 L1139.0 372.6 L1141.1 369.2 L1143.3 365.9 L1145.6 362.6 L1147.9 359.3 L1150.3 356.1 L1152.7 352.9 L1155.3 349.8 L1157.9 346.8 L1160.6 343.8 L1163.5 341.0 L1166.4 338.3 L1169.5 335.7 L1172.7 333.3 L1176.0 331.0 L1179.4 328.9 L1182.9 326.9 L1186.5 325.2 L1190.2 323.6 L1194.0 322.3 L1197.8 321.2 L1201.8 320.4 L1205.7 319.8 L1209.7 319.6 L1213.7 319.7 L1217.7 320.1 L1221.6 320.9 L1225.5 322.0 L1229.3 323.4 L1233.0 325.0 L1236.5 326.8 L1240.0 328.7 L1243.5 330.8 L1246.8 333.1 L1250.0 335.4 L1253.2 337.8 L1256.3 340.4 L1259.4 343.0 L1262.4 345.6 L1265.3 348.4 L1268.1 351.2 L1270.9 354.1 L1273.6 357.1 L1276.2 360.1 L1278.8 363.2 L1281.3 366.4 L1283.7 369.6 L1286.0 372.8 L1288.3 376.2 L1290.5 379.5 L1292.6 382.9 L1294.6 386.3 L1296.6 389.8 L1298.6 393.3 L1300.5 396.9 L1302.3 400.5 L1304.0 404.1 L1305.7 407.7 L1307.4 411.3 L1309.0 415.0 L1310.6 418.7 L1312.1 422.4 L1313.6 426.1 L1315.0 429.9 L1316.4 433.6 L1317.8 437.4 L1319.2 441.2 L1320.5 445.0 L1321.8 448.8 L1323.0 452.6 L1324.3 456.4 L1325.5 460.2 L1326.7 464.0 L1328.0 467.8 L1329.1 471.7 L1330.3 475.5 L1331.5 479.3 L1332.7 483.2 L1333.9 487.0 L1335.1 490.8 L1336.2 494.7 L1337.4 498.5 L1338.6 502.3 L1339.8 506.1 L1341.0 510.0 L1342.2 513.8 L1343.4 517.6 L1344.5 521.5 L1345.7 525.3 L1346.9 529.1 L1348.1 533.0 L1349.3 536.8 L1350.5 540.6 L1351.7 544.4 L1352.9 548.3 L1354.1 552.1 L1355.3 555.9 L1356.5 559.7 L1357.7 563.6 L1358.9 567.4 L1360.1 571.2 L1361.3 575.0 L1362.5 578.9 L1363.8 582.7 L1365.0 586.5 L1366.2 590.3 L1367.4 594.1 L1368.6 598.0 L1369.8 601.8 L1371.0 605.6 L1372.3 609.4 L1373.5 613.2 L1374.7 617.1 L1375.9 620.9 L1377.2 624.7 L1378.4 628.5 L1379.6 632.3 L1380.8 636.2 L1382.1 640.0 L1383.3 643.8 L1384.5 647.6 L1385.8 651.4 L1387.0 655.2 L1388.2 659.1 L1389.5 662.9 L1390.7 666.7 L1391.9 670.5 L1393.2 674.3 L1394.4 678.1 L1395.7 681.9 L1396.9 685.8 L1398.1 689.6 L1399.4 693.4 L1400.6 697.2 L1401.9 701.0 L1403.1 704.8 L1404.4 708.6 L1405.6 712.4 L1406.9 716.2 L1408.1 720.0 L1409.4 723.9 L1410.6 727.7 L1411.9 731.5 L1413.2 735.3 L1414.4 739.1 L1415.7 742.9 L1416.9 746.7 L1418.2 750.5 L1419.5 754.3 L1420.7 758.1 L1422.0 761.9 L1423.3 765.7 L1424.6 769.5 L1425.9 773.3 L1427.2 777.1 L1428.4 780.9 L1429.7 784.7 L1431.0 788.5 L1432.4 792.3 L1433.7 796.1 L1435.0 799.9 L1436.3 803.6 L1437.6 807.4 L1439.0 811.2 L1440.3 815.0 L1441.7 818.8 L1443.0 822.5 L1444.4 826.3 L1445.8 830.1 L1447.2 833.8 L1448.5 837.6 L1449.9 841.4 L1451.4 845.1 L1452.8 848.9 L1454.2 852.6 L1455.6 856.4 L1457.1 860.1 L1458.5 863.8 L1460.0 867.6 L1461.5 871.3 L1462.9 875.0 L1464.4 878.7 L1465.9 882.5 L1467.5 886.2 L1469.0 889.9 L1470.5 893.6 L1472.1 897.3 L1473.7 901.0 L1475.2 904.7 L1476.8 908.3 L1478.4 912.0 L1480.1 915.7 L1481.7 919.3 L1483.3 923.0 L1485.0 926.6 L1486.7 930.3 L1488.4 933.9 L1490.1 937.6 L1491.8 941.2 L1493.5 944.8 L1495.3 948.4 L1497.1 952.0 L1498.8 955.6 L1500.6 959.2 L1502.4 962.8 L1504.3 966.3 L1506.1 969.9 L1508.0 973.4 L1509.8 977.0 L1511.7 980.5 L1513.6 984.1 L1515.5 987.6 L1517.4 991.1 L1519.3 994.7 L1521.2 998.2 L1523.2 1001.7 L1525.1 1005.2 L1527.1 1008.7 L1529.0 1012.2 L1531.0 1015.7 L1533.0 1019.2 L1535.0 1022.7 L1536.9 1026.1 L1538.9 1029.6 L1540.9 1033.1 L1542.9 1036.6 L1544.9 1040.0 L1546.9 1043.5 L1549.0 1047.0 L1551.0 1050.5 L1553.0 1053.9 L1555.0 1057.4 L1557.1 1060.8 L1559.2 1064.2 L1561.3 1067.7 L1563.4 1071.1 L1565.5 1074.5 L1567.7 1077.8 L1569.9 1081.2 L1572.1 1084.5 L1574.3 1087.9 L1576.6 1091.1 L1579.0 1094.4 L1581.4 1097.6 L1583.8 1100.8 L1586.3 1104.0 L1588.8 1107.1 L1591.4 1110.1 L1594.0 1113.2 L1596.7 1116.2 L1599.4 1119.1 L1602.2 1122.0 L1605.0 1124.9 L1607.9 1127.7 L1610.7 1130.4 L1613.7 1133.2 L1616.7 1135.9 L1619.7 1138.5 L1622.7 1141.1 L1625.8 1143.7 L1628.9 1146.2 L1632.0 1148.7 L1635.2 1151.2 L1638.4 1153.6 L1641.6 1156.0 L1644.9 1158.4 L1648.1 1160.7 L1651.4 1162.9 L1654.8 1165.2 L1658.1 1167.4 L1661.5 1169.6 L1664.9 1171.7 L1668.3 1173.8 L1671.7 1175.9 L1675.1 1178.0 L1678.6 1180.0 L1682.1 1182.0 L1685.5 1184.0 L1689.0 1186.0 L1692.6 1187.9 L1696.1 1189.8 L1699.6 1191.7 L1703.2 1193.6 L1706.7 1195.4 L1710.3 1197.3 L1713.9 1199.1 L1717.5 1200.9 L1721.1 1202.6 L1724.7 1204.4 L1728.3 1206.1 L1731.9 1207.8 L1735.5 1209.6 L1739.2 1211.2 L1742.8 1212.9 L1746.5 1214.6 L1750.1 1216.2 L1753.8 1217.8 L1757.5 1219.4 L1761.2 1221.0 L1764.8 1222.6 L1768.6 1224.1 L1772.3 1225.6 L1776.0 1227.1 L1779.7 1228.6 L1783.4 1230.1 L1787.2 1231.5 L1790.9 1233.0 L1794.7 1234.4 L1798.4 1235.8 L1802.2 1237.1 L1806.0 1238.5 L1809.8 1239.8 L1813.6 1241.1 L1817.4 1242.4 L1821.2 1243.7 L1825.0 1244.9 L1828.8 1246.1 L1832.6 1247.3 L1836.4 1248.5 L1840.3 1249.7 L1844.1 1250.8 L1848.0 1251.9 L1851.8 1253.0 L1855.7 1254.1 L1859.6 1255.1 L1863.5 1256.2 L1867.3 1257.2 L1871.2 1258.1 L1875.1 1259.1 L1879.0 1260.0 L1882.9 1260.9 L1886.8 1261.8 L1890.8 1262.7 L1894.7 1263.5 L1898.6 1264.3 L1902.5 1265.1 L1906.5 1265.9 L1910.4 1266.6 L1914.4 1267.3 L1918.3 1268.0 L1922.3 1268.7 L1926.2 1269.3 L1930.2 1269.9 L1934.2 1270.5 L1938.1 1271.1 L1942.1 1271.6 L1946.1 1272.1 L1950.1 1272.6 L1954.0 1273.1 L1958.0 1273.5 L1962.0 1273.9" stroke="#c41ec4" stroke-width="7.5"/>
</g>
<path d="M1333.5 153.0 H1477.5" stroke="#000000" stroke-width="8.0" stroke-linecap="round"/>
<path d="M1333.5 247.3 H1477.5" stroke="#c41e28" stroke-width="8.0" stroke-linecap="round"/>
<path d="M1333.5 342.7 H1477.5" stroke="#1a0f96" stroke-width="8.0" stroke-linecap="round"/>
<path d="M1333.5 439.4 H1477.5" stroke="#c41ec4" stroke-width="8.0" stroke-linecap="round"/>
<text x="181.00" y="1552.00" font-size="80.00" font-weight="bold" textLength="92.00" lengthAdjust="spacingAndGlyphs">0.0</text>
<text x="181.00" y="1265.40" font-size="79.14" font-weight="bold" textLength="91.00" lengthAdjust="spacingAndGlyphs">0.5</text>
<text x="180.00" y="978.80" font-size="78.29" font-weight="bold" textLength="93.00" lengthAdjust="spacingAndGlyphs">1.0</text>
<text x="180.00" y="692.20" font-size="80.00" font-weight="bold" textLength="92.00" lengthAdjust="spacingAndGlyphs">1.5</text>
<text x="182.00" y="405.60" font-size="78.00" font-weight="bold" textLength="91.00" lengthAdjust="spacingAndGlyphs">2.0</text>
<text x="182.00" y="119.00" font-size="80.00" font-weight="bold" textLength="90.00" lengthAdjust="spacingAndGlyphs">2.5</text>
<text x="259.00" y="1638.00" font-size="77.14" font-weight="bold" textLength="109.89" lengthAdjust="spacingAndGlyphs">300</text>
<text x="424.40" y="1638.00" font-size="77.14" font-weight="bold" textLength="109.89" lengthAdjust="spacingAndGlyphs">350</text>
<text x="590.80" y="1638.00" font-size="77.14" font-weight="bold" textLength="107.89" lengthAdjust="spacingAndGlyphs">400</text>
<text x="755.20" y="1638.00" font-size="77.14" font-weight="bold" textLength="108.89" lengthAdjust="spacingAndGlyphs">450</text>
<text x="919.60" y="1638.00" font-size="77.14" font-weight="bold" textLength="109.89" lengthAdjust="spacingAndGlyphs">500</text>
<text x="1084.00" y="1638.00" font-size="77.14" font-weight="bold" textLength="109.89" lengthAdjust="spacingAndGlyphs">550</text>
<text x="1249.40" y="1638.00" font-size="77.14" font-weight="bold" textLength="109.89" lengthAdjust="spacingAndGlyphs">600</text>
<text x="1414.80" y="1638.00" font-size="77.14" font-weight="bold" textLength="109.89" lengthAdjust="spacingAndGlyphs">650</text>
<text x="1579.20" y="1638.00" font-size="77.14" font-weight="bold" textLength="109.89" lengthAdjust="spacingAndGlyphs">700</text>
<text x="1743.60" y="1638.00" font-size="77.14" font-weight="bold" textLength="110.89" lengthAdjust="spacingAndGlyphs">750</text>
<text x="1910.00" y="1638.00" font-size="77.14" font-weight="bold" textLength="109.89" lengthAdjust="spacingAndGlyphs">800</text>
<text transform="translate(103.50 1140.00) rotate(-90) scale(0.8200 1)" x="-1.31 84.14 149.14 212.88 280.91 323.78 390.48 452.33 521.21 584.24" y="0" font-size="94.00" font-weight="bold">Absorbance</text>
<text x="840.40" y="1788.00" font-size="91.67" font-weight="bold" textLength="599.62" lengthAdjust="spacingAndGlyphs">Wavelength(nm)</text>
<text x="1301.00" y="178.50" font-size="70.29" font-weight="bold" textLength="23.83" lengthAdjust="spacingAndGlyphs">1</text>
<text x="1302.00" y="275.00" font-size="72.86" font-weight="bold" textLength="29.79" lengthAdjust="spacingAndGlyphs">2</text>
<text x="1301.00" y="369.50" font-size="72.14" font-weight="bold" textLength="29.79" lengthAdjust="spacingAndGlyphs">3</text>
<text x="1301.00" y="461.00" font-size="65.80" font-weight="bold" textLength="28.80" lengthAdjust="spacingAndGlyphs">4</text>
<text x="1496.00" y="177.60" font-size="65.83" font-weight="bold" textLength="454.81" lengthAdjust="spacingAndGlyphs">original solution</text>
<text x="1496.00" y="272.90" font-size="67.97" font-weight="bold" textLength="435.74" lengthAdjust="spacingAndGlyphs">1st supernatant</text>
<text x="1498.00" y="368.00" font-size="65.28" font-weight="bold" textLength="452.89" lengthAdjust="spacingAndGlyphs">2nd supernatant</text>
<text x="1498.00" y="463.40" font-size="64.44" font-weight="bold" textLength="411.13" lengthAdjust="spacingAndGlyphs">2nd precipitate</text>
<text x="1027.85" y="303.85" font-size="76.00" font-weight="normal" textLength="206.12" lengthAdjust="spacingAndGlyphs" stroke="#000" stroke-width="1.30" stroke-linejoin="round">570nm</text>
<text x="1136.65" y="570.35" font-size="72.43" font-weight="normal" textLength="205.52" lengthAdjust="spacingAndGlyphs" stroke="#000" stroke-width="1.30" stroke-linejoin="round">584nm</text>
<text x="630.65" y="985.35" font-size="73.86" font-weight="normal" textLength="207.52" lengthAdjust="spacingAndGlyphs" stroke="#000" stroke-width="1.30" stroke-linejoin="round">416nm</text>
<text x="1052.65" y="1020.35" font-size="76.71" font-weight="normal" textLength="205.52" lengthAdjust="spacingAndGlyphs" stroke="#000" stroke-width="1.30" stroke-linejoin="round">524nm</text>
<text x="381.05" y="1112.85" font-size="75.14" font-weight="normal" textLength="204.92" lengthAdjust="spacingAndGlyphs" stroke="#000" stroke-width="1.30" stroke-linejoin="round">342nm</text>
<text x="1048.65" y="439.35" font-size="91.16" font-weight="normal" textLength="46.37" lengthAdjust="spacingAndGlyphs" stroke="#000" stroke-width="1.30" stroke-linejoin="round">4</text>
<text x="1521.65" y="896.35" font-size="102.46" font-weight="normal" textLength="35.45" lengthAdjust="spacingAndGlyphs" stroke="#000" stroke-width="1.30" stroke-linejoin="round">1</text>
<text x="1008.65" y="1360.35" font-size="98.14" font-weight="normal" textLength="48.36" lengthAdjust="spacingAndGlyphs" stroke="#000" stroke-width="1.30" stroke-linejoin="round">2</text>
<text x="1235.25" y="1213.35" font-size="99.00" font-weight="normal" textLength="45.98" lengthAdjust="spacingAndGlyphs" stroke="#000" stroke-width="1.30" stroke-linejoin="round">3</text>
</svg></body></html>
